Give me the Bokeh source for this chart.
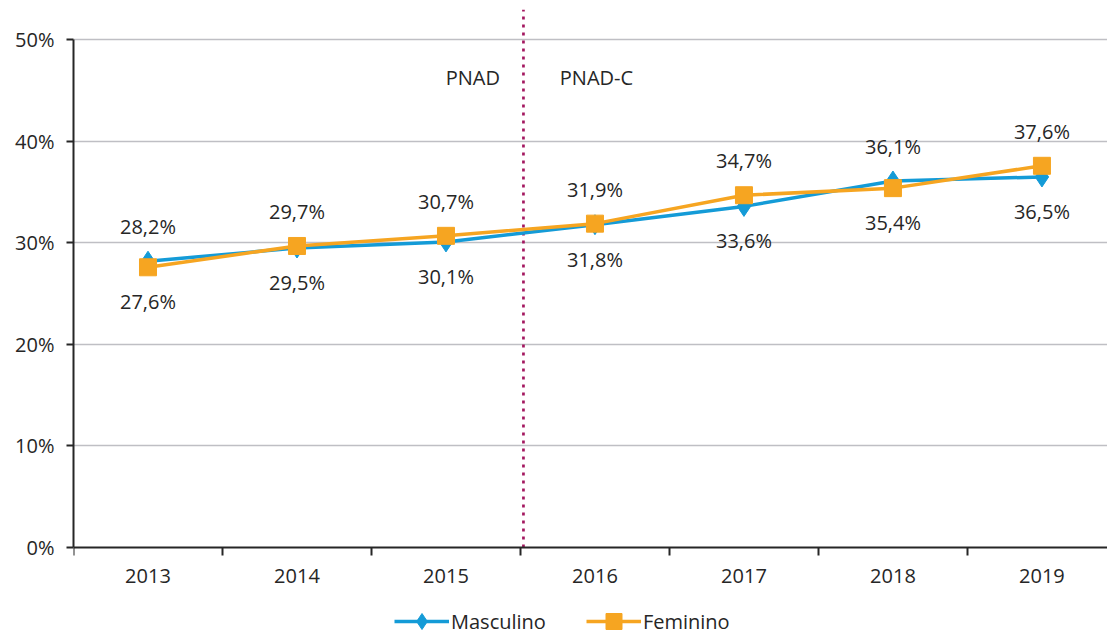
from bokeh.plotting import figure
from bokeh.models import (ColumnDataSource, FixedTicker, Legend, LegendItem,
                          Range1d, Label)
from bokeh.core.properties import value
from bokeh.embed import file_html
from bokeh.resources import INLINE

years = ["2013", "2014", "2015", "2016", "2017", "2018", "2019"]
masculino = [28.2, 29.5, 30.1, 31.8, 33.6, 36.1, 36.5]
feminino = [27.6, 29.7, 30.7, 31.9, 34.7, 35.4, 37.6]
# label placement: +1 above, -1 below
masc_pos = [1, -1, -1, -1, -1, 1, -1]
fem_pos = [-1, 1, 1, 1, 1, -1, 1]
y_ticks = [0, 10, 20, 30, 40, 50]
divider_x = [2.52]

FONT = "Open Sans"
FS = "20px"
TXT = "#262626"
BLUE = "#149BD7"
ORANGE = "#F6A521"

xs = list(range(len(years)))

p = figure(frame_width=1034, frame_height=625, output_backend="svg", toolbar_location=None,
           x_range=Range1d(-0.5, 6.44), y_range=Range1d(-8.58, 53),
           min_border_left=73, min_border_right=0, min_border_top=9, min_border_bottom=0)
p.outline_line_color = None
p.background_fill_color = "white"
p.border_fill_color = "white"

# grid
p.xgrid.grid_line_color = None
p.ygrid.ticker = FixedTicker(ticks=[10, 20, 30, 40, 50])
p.ygrid.grid_line_color = "#BFBFC4"
p.ygrid.grid_line_width = 1.5

# y axis
p.yaxis.ticker = FixedTicker(ticks=y_ticks)
p.yaxis.major_label_overrides = {t: f"{t}%" for t in y_ticks}
p.yaxis.bounds = (0, 50)
p.yaxis.axis_line_color = TXT
p.yaxis.axis_line_width = 2
p.yaxis.major_tick_line_color = TXT
p.yaxis.major_tick_line_width = 2
p.yaxis.major_tick_out = 7
p.yaxis.major_tick_in = 0
p.yaxis.minor_tick_line_color = None
p.yaxis.major_label_text_font = FONT
p.yaxis.major_label_text_font_size = FS
p.yaxis.major_label_text_color = TXT
p.yaxis.major_label_standoff = 12

# x axis (fixed at 0%)
p.xaxis.fixed_location = 0
p.xaxis.ticker = FixedTicker(ticks=xs, minor_ticks=[i - 0.5 for i in range(len(years) + 1)])
p.xaxis.major_label_overrides = {i: y for i, y in enumerate(years)}
p.xaxis.axis_line_color = TXT
p.xaxis.axis_line_width = 2
p.xaxis.major_tick_line_color = None
p.xaxis.major_tick_out = 0
p.xaxis.major_tick_in = 0
p.xaxis.minor_tick_line_color = TXT
p.xaxis.minor_tick_line_width = 2
p.xaxis.minor_tick_out = 8
p.xaxis.minor_tick_in = 0
p.xaxis.major_label_text_font = FONT
p.xaxis.major_label_text_font_size = FS
p.xaxis.major_label_text_color = TXT
p.xaxis.major_label_standoff = 14

# divider between PNAD and PNAD-C
p.segment(x0=divider_x, y0=[0], x1=divider_x, y1=[53], line_color="#A3175F",
          line_width=2.7, line_dash="3 5")
p.add_layout(Label(x=2.18, y=46.3, text="PNAD", text_align="center", text_baseline="middle",
                   text_font=FONT, text_font_size=FS, text_color=TXT))
p.add_layout(Label(x=3.01, y=46.3, text="PNAD-C", text_align="center", text_baseline="middle",
                   text_font=FONT, text_font_size=FS, text_color=TXT))

ms = ColumnDataSource(dict(x=xs, y=masculino,
                           lab=[f"{v:.1f}%".replace(".", ",") for v in masculino],
                           ly=[v + d * 3.4 for v, d in zip(masculino, masc_pos)]))
fs = ColumnDataSource(dict(x=xs, y=feminino,
                           lab=[f"{v:.1f}%".replace(".", ",") for v in feminino],
                           ly=[v + d * 3.4 for v, d in zip(feminino, fem_pos)]))

ml = p.line("x", "y", source=ms, line_color=BLUE, line_width=3.5)
mm = p.scatter("x", "y", source=ms, marker="diamond", size=20, fill_color=BLUE, line_color=BLUE)
fl = p.line("x", "y", source=fs, line_color=ORANGE, line_width=3.5)
fm = p.scatter("x", "y", source=fs, marker="square", size=17, fill_color=ORANGE, line_color=ORANGE)

for src in (ms, fs):
    p.text("x", "ly", text="lab", source=src, text_align="center", text_baseline="middle",
           text_font=value(FONT), text_font_size=FS, text_color=TXT)

legend = Legend(items=[LegendItem(label="Masculino", renderers=[ml, mm]),
                       LegendItem(label="Feminino", renderers=[fl, fm])],
                orientation="horizontal", location=(321, -7),
                label_text_font=FONT, label_text_font_size=FS, label_text_color=TXT,
                glyph_width=55, glyph_height=40, label_height=20, spacing=40, label_standoff=2,
                border_line_color=None, background_fill_alpha=0, margin=0, padding=0)
p.add_layout(legend, "center")

open("out.html", "w").write(file_html(p, INLINE))
